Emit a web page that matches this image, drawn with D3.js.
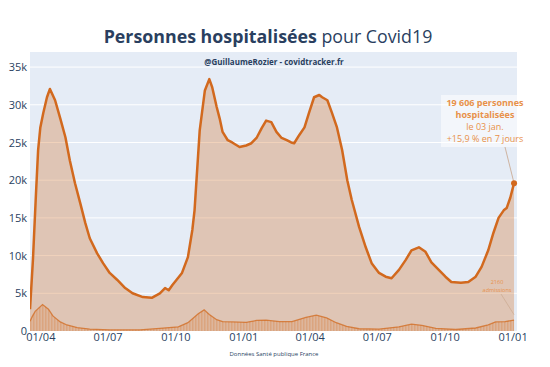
<!DOCTYPE html>
<html>
<head>
<meta charset="utf-8">
<script src="https://cdn.jsdelivr.net/npm/d3@7"></script>
<style>
html,body{margin:0;padding:0;background:#fff;}
svg{display:block;font-family:"Open Sans",sans-serif;}
</style>
</head>
<body>
<svg id="chart" width="550" height="367"></svg>
<script>
// Hospitalisations (date, persons)
const hospDates = ["2020-03-18","2020-03-22","2020-03-26","2020-03-29","2020-04-01","2020-04-05","2020-04-10","2020-04-14","2020-04-21","2020-04-28","2020-05-05","2020-05-11","2020-05-18","2020-05-25","2020-06-01","2020-06-07","2020-06-17","2020-06-25","2020-07-04","2020-07-14","2020-07-25","2020-08-04","2020-08-18","2020-08-30","2020-09-10","2020-09-17","2020-09-22","2020-09-27","2020-10-10","2020-10-18","2020-10-24","2020-10-27","2020-11-03","2020-11-10","2020-11-16","2020-11-20","2020-11-26","2020-11-30","2020-12-04","2020-12-11","2020-12-17","2020-12-27","2021-01-05","2021-01-12","2021-01-19","2021-01-26","2021-02-01","2021-02-08","2021-02-15","2021-02-22","2021-03-01","2021-03-07","2021-03-11","2021-03-18","2021-03-25","2021-03-31","2021-04-07","2021-04-14","2021-04-18","2021-04-25","2021-05-01","2021-05-08","2021-05-15","2021-05-22","2021-05-28","2021-06-07","2021-06-16","2021-06-24","2021-07-04","2021-07-13","2021-07-21","2021-07-31","2021-08-09","2021-08-17","2021-08-27","2021-09-05","2021-09-13","2021-09-23","2021-10-02","2021-10-10","2021-10-23","2021-11-02","2021-11-12","2021-11-20","2021-11-29","2021-12-06","2021-12-13","2021-12-20","2021-12-24","2021-12-29","2022-01-03"];
const hospValues = [2900,9500,18000,24000,27000,28900,31000,32100,30600,28200,25700,22600,19600,17000,14300,12300,10300,9000,7700,6800,5700,5000,4500,4400,5000,5700,5400,6100,7700,9800,13400,16000,26600,31900,33400,32300,29700,28200,26400,25300,25000,24400,24600,24900,25600,26900,27900,27700,26400,25600,25300,25000,24900,26000,27000,28900,31000,31300,31000,30600,29000,27000,24000,20000,17400,13800,11100,9000,7700,7200,7000,8100,9400,10700,11100,10500,9100,8100,7200,6500,6400,6500,7200,8500,10700,13000,15000,16000,16300,17700,19606];

// Hospital admissions (7-day average)
const admDates = ["2020-03-18","2020-03-21","2020-03-25","2020-04-04","2020-04-12","2020-04-18","2020-04-28","2020-05-07","2020-05-21","2020-06-07","2020-07-04","2020-08-14","2020-09-10","2020-10-05","2020-10-18","2020-11-01","2020-11-09","2020-11-16","2020-11-26","2020-12-04","2020-12-17","2021-01-05","2021-01-19","2021-02-01","2021-02-19","2021-03-08","2021-03-27","2021-04-10","2021-04-24","2021-05-07","2021-05-21","2021-06-07","2021-07-04","2021-07-31","2021-08-17","2021-08-31","2021-09-19","2021-10-16","2021-11-12","2021-11-29","2021-12-09","2021-12-22","2022-01-03"];
const admValues = [1300,1900,2600,3500,2900,2000,1200,800,450,250,150,150,350,550,1100,2300,2800,2200,1500,1250,1200,1150,1400,1450,1250,1250,1800,2100,1750,1100,600,300,250,550,900,750,350,200,400,800,1200,1250,1450];

const yTicks = [0,5000,10000,15000,20000,25000,30000,35000];
const yTickLabels = ["0","5k","10k","15k","20k","25k","30k","35k"];
const xTickDates = ["2020-04-01","2020-07-01","2020-10-01","2021-01-01","2021-04-01","2021-07-01","2021-10-01","2022-01-01"];
const xTickLabels = ["01/04","01/07","01/10","01/01","01/04","01/07","01/10","01/01"];

const lastDateLabel = "le 03 jan.";
const lastAdmissions = "2160";
const weeklyChange = "+15,9 % en 7 jours";

const parse = d3.timeParse("%Y-%m-%d");
const hosp = hospDates.map((d,i)=>({date:parse(d), v:hospValues[i]}));
const adm = admDates.map((d,i)=>({date:parse(d), v:admValues[i]}));

const W=550,H=367;
const m={left:30,right:33,top:52,bottom:36};
const svg=d3.select("#chart");
const x=d3.scaleTime().domain([parse("2020-03-18"),parse("2022-01-07")]).range([m.left,W-m.right]);
const y=d3.scaleLinear().domain([0,37000]).range([H-m.bottom,m.top]);

const orange="#d2691e";
const navy="#2a3f5f";

// defs: stripe pattern for daily admissions bars
const defs=svg.append("defs");
const pat=defs.append("pattern").attr("id","bars").attr("patternUnits","userSpaceOnUse")
  .attr("width",1.5).attr("height",10);
pat.append("rect").attr("width",1.5).attr("height",10).attr("fill","rgba(210,105,30,0.12)");
pat.append("rect").attr("width",0.7).attr("height",10).attr("fill","rgba(210,105,30,0.35)");
defs.append("clipPath").attr("id","clip").append("rect")
  .attr("x",m.left).attr("y",m.top).attr("width",W-m.left-m.right).attr("height",H-m.top-m.bottom);

// plot background
svg.append("rect").attr("x",m.left).attr("y",m.top).attr("width",W-m.left-m.right).attr("height",H-m.top-m.bottom).attr("fill","#e5ecf6");

// gridlines
svg.append("g").selectAll("line").data(yTicks.slice(1)).join("line")
  .attr("x1",m.left).attr("x2",W-m.right).attr("y1",d=>y(d)).attr("y2",d=>y(d))
  .attr("stroke","#fff").attr("stroke-width",1);

const g=svg.append("g").attr("clip-path","url(#clip)");

// hospitalisation area
g.append("path").datum(hosp)
  .attr("d",d3.area().x(d=>x(d.date)).y0(y(0)).y1(d=>y(d.v)))
  .attr("fill","rgba(210,105,30,0.3)");

// admissions area (daily bars look)
g.append("path").datum(adm)
  .attr("d",d3.area().x(d=>x(d.date)).y0(y(0)).y1(d=>y(d.v)))
  .attr("fill","url(#bars)");

// admissions line
g.append("path").datum(adm)
  .attr("d",d3.line().x(d=>x(d.date)).y(d=>y(d.v)))
  .attr("fill","none").attr("stroke","rgba(210,105,30,0.75)").attr("stroke-width",1.3);

// hospitalisation line
g.append("path").datum(hosp)
  .attr("d",d3.line().x(d=>x(d.date)).y(d=>y(d.v)))
  .attr("fill","none").attr("stroke",orange).attr("stroke-width",2.5).attr("stroke-linejoin","round");

// y axis labels
const yAxis=d3.axisLeft(y).tickValues(yTicks).tickFormat((d,i)=>yTickLabels[i]).tickSize(0).tickPadding(3);
const ya=svg.append("g").attr("transform",`translate(${m.left},0)`).call(yAxis);
ya.select(".domain").remove();
ya.selectAll("text").attr("fill",navy).attr("font-size",11).attr("font-family","Open Sans");

// x axis labels
const xAxis=d3.axisBottom(x).tickValues(xTickDates.map(parse)).tickFormat((d,i)=>xTickLabels[i]).tickSize(0).tickPadding(2);
const xa=svg.append("g").attr("transform",`translate(0,${H-m.bottom})`).call(xAxis);
xa.select(".domain").remove();
xa.selectAll("text").attr("fill",navy).attr("font-size",11).attr("font-family","Open Sans");

// title
const t=svg.append("text").attr("x",268).attr("y",43).attr("text-anchor","middle")
  .attr("font-size",17.8).attr("fill",navy);
t.append("tspan").attr("font-weight","bold").text("Personnes hospitalisées");
t.append("tspan").text(" pour Covid19");

// watermark
svg.append("text").attr("x",274).attr("y",65).attr("text-anchor","middle")
  .attr("font-size",8).attr("font-weight","bold").attr("fill",navy)
  .text("@GuillaumeRozier - covidtracker.fr");

// source
svg.append("text").attr("x",274).attr("y",356).attr("text-anchor","middle")
  .attr("font-size",6).attr("fill",navy).text("Données Santé publique France");

// last point marker and annotation
const last=hosp[hosp.length-1];
const px=x(last.date), py=y(last.v);
svg.append("rect").attr("x",441).attr("y",95).attr("width",W-m.right-441).attr("height",52)
  .attr("fill","rgba(255,255,255,0.55)");
svg.append("line").attr("x1",505).attr("y1",147).attr("x2",px).attr("y2",py)
  .attr("stroke","#c8a48a").attr("stroke-width",0.8);
svg.append("circle").attr("cx",px).attr("cy",py).attr("r",3).attr("fill",orange);
const annColor="#e8914a";
const fmt=d3.formatLocale({decimal:",",thousands:" ",grouping:[3],currency:["","€"]}).format(",");
const ann=[
  {t:fmt(last.v)+" personnes", b:true, y:106},
  {t:"hospitalisées", b:true, y:118},
  {t:lastDateLabel, b:false, y:130},
  {t:weeklyChange, b:false, y:142}
];
svg.append("g").selectAll("text").data(ann).join("text")
  .attr("x",485).attr("y",d=>d.y).attr("text-anchor","middle")
  .attr("font-size",9).attr("font-weight",d=>d.b?"bold":"normal").attr("fill",annColor)
  .text(d=>d.t);

// admissions annotation
const lastA=adm[adm.length-1];
svg.append("line").attr("x1",501).attr("y1",294).attr("x2",x(lastA.date)).attr("y2",y(2160))
  .attr("stroke","#c8a48a").attr("stroke-width",0.6);
svg.append("text").attr("x",497).attr("y",284).attr("text-anchor","middle")
  .attr("font-size",5.5).attr("fill",annColor).text(lastAdmissions);
svg.append("text").attr("x",497).attr("y",292).attr("text-anchor","middle")
  .attr("font-size",5.5).attr("fill",annColor).text("admissions");
</script>
</body>
</html>
